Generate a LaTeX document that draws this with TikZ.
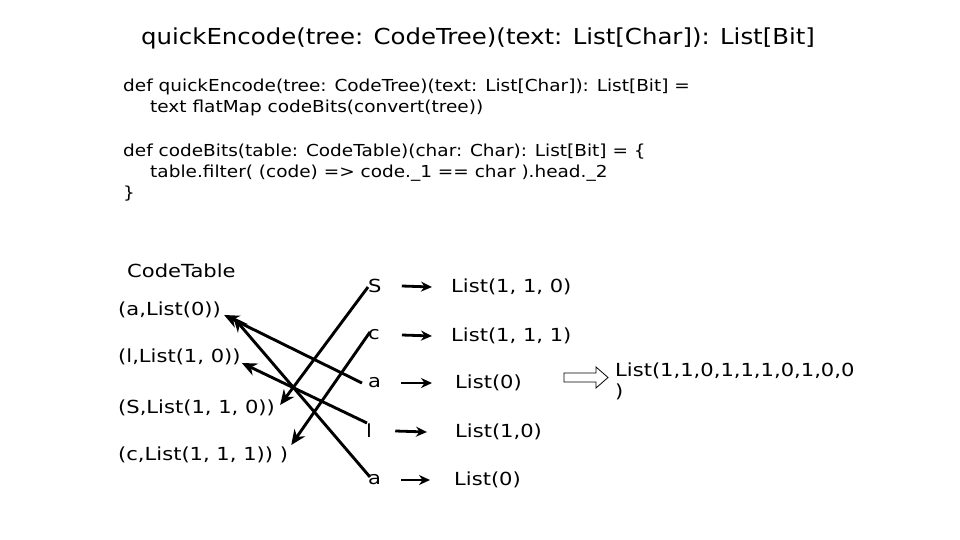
\documentclass[tikz,border=0pt]{standalone}
\usepackage{fontspec}
\setmainfont{DejaVu Sans}
\newfontfamily\titlefont[FakeStretch=1.11]{DejaVu Sans}
\newfontfamily\codefont[FakeStretch=1.12]{DejaVu Sans}
\newfontfamily\wordfont[FakeStretch=1.17]{DejaVu Sans}
\usetikzlibrary{arrows.meta}
\tikzstyle{txt} = [anchor=west, inner sep=0pt, font=\wordfont\fontsize{18}{21}\selectfont]
\tikzstyle{code} = [anchor=west, inner sep=0pt, font=\codefont\fontsize{16.5}{21}\selectfont]
\tikzstyle{cross} = [line width=2.9pt, -{Stealth[length=15pt,width=13pt]}]
\tikzstyle{short} = [line width=2.8pt, -{Stealth[length=11pt,width=10pt]}]

\begin{document}
\begin{tikzpicture}[x=1pt,y=-1pt]
        \useasboundingbox (0,0) rectangle (960,540);

        \node (title) [anchor=west, inner sep=0pt, font=\titlefont\fontsize{22}{26}\selectfont] at (141,38) {quickEncode(tree: CodeTree)(text: List[Char]): List[Bit]};

        %% code

        \node (def1) [code] at (123,87) {def quickEncode(tree: CodeTree)(text: List[Char]): List[Bit] =};
        \node (body1) [code] at (150,108) {text flatMap codeBits(convert(tree))};
        \node (def2) [code] at (123,152) {def codeBits(table: CodeTable)(char: Char): List[Bit] = \{};
        \node (body2) [code] at (150,173) {table.filter( (code) => code.\_1 == char ).head.\_2};
        \node (close) [code] at (123,194) {\}};

        %% table

        \node (table) [txt] at (127,271) {CodeTable};
        \node (tA) [txt] at (118,310) {(a,List(0))};
        \node (tL) [txt] at (118,357) {(l,List(1, 0))};
        \node (tS) [txt] at (118,408) {(S,List(1, 1, 0))};
        \node (tC) [txt] at (118,455) {(c,List(1, 1, 1)) )};

        %% text

        \node (cS) [txt] at (368,286) {S};
        \node (cC) [txt] at (368,335) {c};
        \node (cA) [txt] at (368,383) {a};
        \node (cL) [txt] at (366,431) {l};
        \node (cA2) [txt] at (368,480) {a};

        \node (bS) [txt] at (451,287) {List(1, 1, 0)};
        \node (bC) [txt] at (451,336) {List(1, 1, 1)};
        \node (bA) [txt] at (455,383) {List(0)};
        \node (bL) [txt] at (455,432) {List(1,0)};
        \node (bA2) [txt] at (454,480) {List(0)};

        \foreach \c/\b/\s/\e in {cS/bS/20/19, cC/bC/22/19, cA/bA/20/23, cL/bL/23/28, cA2/bA2/20/24}
            \draw[short] ([xshift=\s pt]\c.east) -- ([xshift=-\e pt]\b.west);

        %% lookups

        \draw[cross] ([yshift=-1pt]cS.west) -- ([xshift=5pt,yshift=3pt]tS.east);
        \draw[cross] ([xshift=2pt,yshift=3pt]cC.west) -- ([xshift=3pt,yshift=10pt]tC.east);
        \draw[cross] ([xshift=-6pt]cA.west) -- ([xshift=3pt,yshift=-5pt]tA.east);
        \draw[cross] ([xshift=1pt,yshift=8pt]cL.west) -- ([xshift=1pt,yshift=-6pt]tL.east);
        \draw[cross] ([xshift=2pt,yshift=3pt]cA2.west) -- ([xshift=12pt,yshift=-7pt]tA.east);

        %% result

        \node (res) [txt, align=left, anchor=north west] at (615,363) {List(1,1,0,1,1,1,0,1,0,0\\)};
        \draw[line width=0.8pt] (564,373) -- (596,373) -- (596,367) -- (608,377.5)
            -- (596,388) -- (596,382) -- (564,382) -- cycle;

\end{tikzpicture}
\end{document}
